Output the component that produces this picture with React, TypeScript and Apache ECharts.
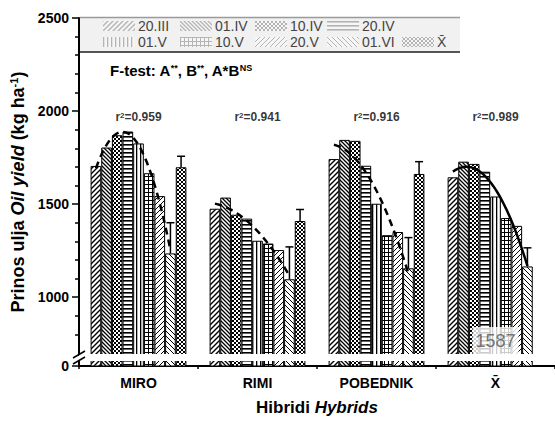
import React, { useEffect, useRef } from 'react';
import * as echarts from 'echarts';

// ---------- data ----------
const categories = ['MIRO', 'RIMI', 'POBEDNIK', 'X\u0304'];
const seriesNames = ['20.III', '01.IV', '10.IV', '20.IV', '01.V', '10.V', '20.V', '01.VI', 'X\u0304'];

const v20III = [1705, 1475, 1742, 1644];
const v01IV = [1804, 1535, 1845, 1728];
const v10IV = [1870, 1443, 1840, 1716];
const v20IV = [1890, 1422, 1706, 1674];
const v01V = [1826, 1303, 1502, 1541];
const v10V = [1666, 1288, 1333, 1425];
const v20V = [1543, 1253, 1350, 1383];
const v01VI = [1235, 1096, 1155, 1165];
const vMean: (number | null)[] = [1698, 1409, 1662, null];

// upper ends of the error bars
const err01VI = [1400, 1270, 1320, 1265];
const errMean: (number | null)[] = [1757, 1471, 1728, null];

const r2Values = ['0.959', '0.941', '0.916', '0.989'];
const grandMean = 1587;

const yTickValues = [0, 1000, 1500, 2000, 2500];
const yMinorTicks = [800, 900, 1100, 1200, 1300, 1400, 1600, 1700, 1800, 1900, 2100, 2200, 2300, 2400];

// ---------- layout constants ----------
const Y_MIN = 630; // value at the broken axis' bottom (shown as 0)
const Y_MAX = 2500;
const BREAK = [657, 694];
const R2_Y = 1966;
const MEAN_LABEL_Y = 764;
const GAP = 0.195;
const FONT = 'Liberation Sans, Arial, Helvetica, sans-serif';
const LEGEND_LEFT = [103, 180, 255, 327, 103, 180, 255, 327, 402];
const LEGEND_TOP = [19, 19, 19, 19, 35, 35, 35, 35, 35];
const SWATCH_W = 32;
const SWATCH_H = 10;

const patternKinds = ['fwd', 'back', 'check', 'horiz', 'vert', 'grid', 'fwd2', 'back2', 'xhatch'];

function makeTile(kind: string, ink: string, paper: string) {
  const s = kind === 'fwd' || kind === 'fwd2' || kind === 'back2' ? 5 : 4;
  const cv = document.createElement('canvas');
  cv.width = s;
  cv.height = s;
  const g = cv.getContext('2d')!;
  g.fillStyle = paper;
  g.fillRect(0, 0, s, s);
  g.fillStyle = ink;
  g.strokeStyle = ink;
  const diag = (dir: number, lw: number) => {
    g.lineWidth = lw;
    g.beginPath();
    if (dir === 1) {
      g.moveTo(0, s); g.lineTo(s, 0);
      g.moveTo(-1, 1); g.lineTo(1, -1);
      g.moveTo(s - 1, s + 1); g.lineTo(s + 1, s - 1);
    } else {
      g.moveTo(0, 0); g.lineTo(s, s);
      g.moveTo(-1, s - 1); g.lineTo(1, s + 1);
      g.moveTo(s - 1, -1); g.lineTo(s + 1, 1);
    }
    g.stroke();
  };
  switch (kind) {
    case 'fwd': diag(1, 1.4); break;
    case 'back': diag(-1, 1.3); break;
    case 'check': g.fillRect(0, 0, 2, 2); g.fillRect(2, 2, 2, 2); break;
    case 'horiz': g.fillRect(0, 0, s, 1.6); break;
    case 'vert': g.fillRect(0, 0, 1.3, s); break;
    case 'grid': g.fillRect(0, 0, s, 1); g.fillRect(0, 0, 1, s); break;
    case 'fwd2': diag(1, 1); break;
    case 'back2': diag(-1, 1); break;
    case 'xhatch': diag(1, 1); diag(-1, 1); break;
  }
  return cv;
}

function makePattern(kind: string) {
  return { image: makeTile(kind, '#000', '#fff'), repeat: 'repeat' };
}

function makeSwatch(kind: string) {
  const tile = makeTile(kind, '#b4b4b4', '#f6f6f6');
  const cv = document.createElement('canvas');
  cv.width = SWATCH_W;
  cv.height = SWATCH_H;
  const g = cv.getContext('2d')!;
  g.fillStyle = g.createPattern(tile, 'repeat') as CanvasPattern;
  g.fillRect(0, 0, SWATCH_W, SWATCH_H);
  return 'image://' + cv.toDataURL();
}

function quadFit(ys: number[]) {
  const n = ys.length;
  let s1 = 0, s2 = 0, s3 = 0, s4 = 0, t0 = 0, t1 = 0, t2 = 0;
  ys.forEach((y, t) => {
    s1 += t; s2 += t * t; s3 += t * t * t; s4 += t * t * t * t;
    t0 += y; t1 += t * y; t2 += t * t * y;
  });
  const det = (m: number[][]) =>
    m[0][0] * (m[1][1] * m[2][2] - m[1][2] * m[2][1]) -
    m[0][1] * (m[1][0] * m[2][2] - m[1][2] * m[2][0]) +
    m[0][2] * (m[1][0] * m[2][1] - m[1][1] * m[2][0]);
  const A = [[n, s1, s2], [s1, s2, s3], [s2, s3, s4]];
  const B = [t0, t1, t2];
  const D = det(A);
  const col = (k: number) => A.map((row, i) => row.map((v, j) => (j === k ? B[i] : v)));
  const a = det(col(0)) / D, b = det(col(1)) / D, c = det(col(2)) / D;
  return (t: number) => a + b * t + c * t * t;
}

function buildOption() {
  const dateSeries = [v20III, v01IV, v10IV, v20IV, v01V, v10V, v20V, v01VI];
  const allSeries = [...dateSeries, vMean];
  const nBars = allSeries.length;
  const groupFrac = 1 - GAP;
  const barFrac = groupFrac / nBars;

  const bars = allSeries.map((vals, i) => ({
    name: seriesNames[i],
    type: 'bar',
    xAxisIndex: 0,
    yAxisIndex: 0,
    data: vals,
    barGap: '0%',
    barCategoryGap: GAP * 100 + '%',
    itemStyle: { color: makePattern(patternKinds[i]), borderColor: '#000', borderWidth: 1 },
    z: 2,
    silent: true,
  }));

  const curves = categories.map((_, c) => {
    const ys = dateSeries.map((s) => s[c]);
    const f = quadFit(ys);
    const pts: number[][] = [];
    const tEnd = ys.length - 1;
    for (let k = 0; k <= 35; k++) {
      const t = (tEnd * k) / 35;
      pts.push([c + 0.5 - groupFrac / 2 + (t + 0.5) * barFrac, f(t)]);
    }
    return {
      type: 'line',
      xAxisIndex: 3,
      yAxisIndex: 0,
      data: pts,
      symbol: 'none',
      showSymbol: false,
      silent: true,
      z: 5,
      lineStyle: { color: '#000', width: 2.5, type: c === 3 ? 'solid' : [7, 5] },
    };
  });

  const errData: number[][] = [];
  categories.forEach((_, c) => {
    errData.push([c, 7, v01VI[c], err01VI[c]]);
    if (vMean[c] != null && errMean[c] != null) errData.push([c, 8, vMean[c] as number, errMean[c] as number]);
  });

  const errorSeries = {
    type: 'custom',
    xAxisIndex: 0,
    yAxisIndex: 0,
    data: errData,
    z: 6,
    silent: true,
    renderItem: (_p: any, api: any) => {
      const ci = api.value(0);
      const si = api.value(1);
      const lo = api.coord([ci, api.value(2)]);
      const hi = api.coord([ci, api.value(3)]);
      const band = api.size([1, 0])[0];
      const gw = band * groupFrac;
      const x = lo[0] - gw / 2 + (si + 0.5) * (gw / nBars);
      return {
        type: 'group',
        children: [
          { type: 'line', shape: { x1: x, y1: lo[1], x2: x, y2: hi[1] }, style: { stroke: '#000', lineWidth: 1.5 } },
          { type: 'line', shape: { x1: x - 4, y1: hi[1], x2: x + 4, y2: hi[1] }, style: { stroke: '#000', lineWidth: 1.5 } },
        ],
      };
    },
    markArea: {
      silent: true,
      z: 4,
      itemStyle: { color: '#fff', borderWidth: 0 },
      data: [[{ yAxis: BREAK[0] }, { yAxis: BREAK[1] }]],
    },
  };

  const r2Series = {
    type: 'scatter',
    xAxisIndex: 0,
    yAxisIndex: 0,
    data: r2Values.map((r, i) => [i, R2_Y, r]),
    symbol: 'rect',
    symbolSize: 1,
    itemStyle: { color: 'transparent' },
    silent: true,
    z: 7,
    label: {
      show: true,
      position: 'inside',
      formatter: (p: any) => `{a|r}{s|2}{a|=${p.value[2]}}`,
      rich: {
        a: { fontSize: 12, fontWeight: 'bold', color: '#000', fontFamily: FONT },
        s: { fontSize: 8, fontWeight: 'bold', color: '#000', fontFamily: FONT, verticalAlign: 'top' },
      },
    },
  };

  const meanSeries = {
    type: 'scatter',
    xAxisIndex: 0,
    yAxisIndex: 0,
    data: [[3, MEAN_LABEL_Y, grandMean]],
    symbol: 'rect',
    symbolSize: 1,
    itemStyle: { color: 'transparent' },
    silent: true,
    z: 8,
    label: {
      show: true,
      position: 'inside',
      formatter: (p: any) => String(p.value[2]),
      fontSize: 18,
      color: '#555',
      fontFamily: FONT,
      backgroundColor: '#fff',
      padding: [5, 3, 5, 3],
    },
  };

  const tickLine = { color: '#000', width: 1.5 };
  const yMajor = yTickValues.map((v) => (v === 0 ? Y_MIN : v));

  const legends = seriesNames.map((name, i) => ({
    left: LEGEND_LEFT[i],
    top: LEGEND_TOP[i],
    orient: 'horizontal',
    itemWidth: SWATCH_W,
    itemHeight: SWATCH_H,
    selectedMode: false,
    padding: 0,
    textStyle: { fontSize: 14, color: '#444', fontFamily: FONT, padding: [0, 0, 0, -2] },
    z: 5,
    data: [{ name, icon: makeSwatch(patternKinds[i]) }],
  }));

  return {
    animation: false,
    backgroundColor: '#fff',
    textStyle: { fontFamily: FONT },
    grid: { left: 79, top: 18, width: 477, height: 350, containLabel: false },
    legend: legends,
    xAxis: [
      {
        type: 'category',
        data: categories,
        position: 'bottom',
        axisLine: { onZero: false, lineStyle: { color: '#000', width: 2 } },
        axisTick: { alignWithLabel: true, length: 6, lineStyle: tickLine },
        axisLabel: { fontSize: 14, fontWeight: 'bold', color: '#000', margin: 10, fontFamily: FONT },
        splitLine: { show: false },
        name: '{b|Hibridi }{i|Hybrids}',
        nameLocation: 'middle',
        nameGap: 33,
        nameTextStyle: {
          rich: {
            b: { fontSize: 17, fontWeight: 'bold', color: '#000', fontFamily: FONT },
            i: { fontSize: 17, fontWeight: 'bold', fontStyle: 'italic', color: '#000', fontFamily: FONT },
          },
        },
      },
      {
        type: 'category',
        data: categories,
        position: 'bottom',
        axisLine: { show: false, onZero: false },
        axisTick: { show: true, length: 3, lineStyle: tickLine },
        axisLabel: { show: false },
        splitLine: { show: false },
      },
      {
        type: 'category',
        data: categories,
        position: 'bottom',
        axisLine: { show: false, onZero: false },
        axisTick: { show: true, inside: true, alignWithLabel: true, length: 4, lineStyle: tickLine },
        axisLabel: { show: false },
        splitLine: { show: false },
      },
      { type: 'value', min: 0, max: 4, show: false, position: 'bottom', axisLine: { onZero: false } },
    ],
    yAxis: [
      {
        type: 'value',
        min: Y_MIN,
        max: Y_MAX,
        position: 'left',
        axisLine: { show: true, onZero: false, lineStyle: { color: '#000', width: 2 } },
        axisTick: { show: true, length: 7, customValues: yMajor, lineStyle: tickLine },
        axisLabel: {
          customValues: yMajor,
          formatter: (v: number) => (v === Y_MIN ? '0' : String(v)),
          fontSize: 14,
          fontWeight: 'bold',
          color: '#000',
          margin: 10,
          fontFamily: FONT,
        },
        splitLine: { show: false },
        name: '{b|Prinos ulja }{i|Oil yield}{b| (kg ha}{s|-1}{b|)}',
        nameLocation: 'middle',
        nameGap: 50,
        nameTextStyle: {
          rich: {
            b: { fontSize: 18, fontWeight: 'bold', color: '#000', fontFamily: FONT },
            i: { fontSize: 18, fontWeight: 'bold', fontStyle: 'italic', color: '#000', fontFamily: FONT },
            s: { fontSize: 11, fontWeight: 'bold', color: '#000', fontFamily: FONT, verticalAlign: 'top' },
          },
        },
      },
      {
        type: 'value',
        min: Y_MIN,
        max: Y_MAX,
        position: 'left',
        axisLine: { show: false, onZero: false },
        axisTick: { show: true, length: 4, customValues: yMinorTicks, lineStyle: tickLine },
        axisLabel: { show: false },
        splitLine: { show: false },
      },
    ],
    graphic: [
      { type: 'rect', shape: { x: 80, y: 17, width: 380, height: 35 }, style: { fill: '#f1f1f1' }, z: 1 },
      { type: 'line', shape: { x1: 80, y1: 17.5, x2: 460, y2: 17.5 }, style: { stroke: '#9a9a9a', lineWidth: 1.5 }, z: 2 },
      { type: 'line', shape: { x1: 80, y1: 52, x2: 460, y2: 52 }, style: { stroke: '#555', lineWidth: 2 }, z: 2 },
      {
        type: 'text',
        left: 110,
        top: 63,
        z: 10,
        style: {
          text: '{b|F-test: A}{s|**}{b|, B}{s|**}{b|, A*B}{s|NS}',
          rich: {
            b: { fontSize: 15, fontWeight: 'bold', fill: '#000', fontFamily: FONT },
            s: { fontSize: 9, fontWeight: 'bold', fill: '#000', fontFamily: FONT, verticalAlign: 'top' },
          },
        },
      },
      { type: 'rect', shape: { x: 76, y: 356, width: 6, height: 5 }, style: { fill: '#fff' }, z: 20 },
      { type: 'line', shape: { x1: 73, y1: 358, x2: 85, y2: 351 }, style: { stroke: '#000', lineWidth: 1.5 }, z: 21 },
      { type: 'line', shape: { x1: 73, y1: 364, x2: 85, y2: 357 }, style: { stroke: '#000', lineWidth: 1.5 }, z: 21 },
    ],
    series: [...bars, ...curves, errorSeries, r2Series, meanSeries],
  };
}

export default function App() {
  const ref = useRef<HTMLDivElement>(null);
  useEffect(() => {
    const chart = echarts.init(ref.current!, null, { renderer: 'svg' });
    chart.setOption(buildOption() as any);
    return () => chart.dispose();
  }, []);
  return (
    <div
      ref={ref}
      style={{ position: 'fixed', left: 0, top: 0, width: 555, height: 421, background: '#fff' }}
    />
  );
}
